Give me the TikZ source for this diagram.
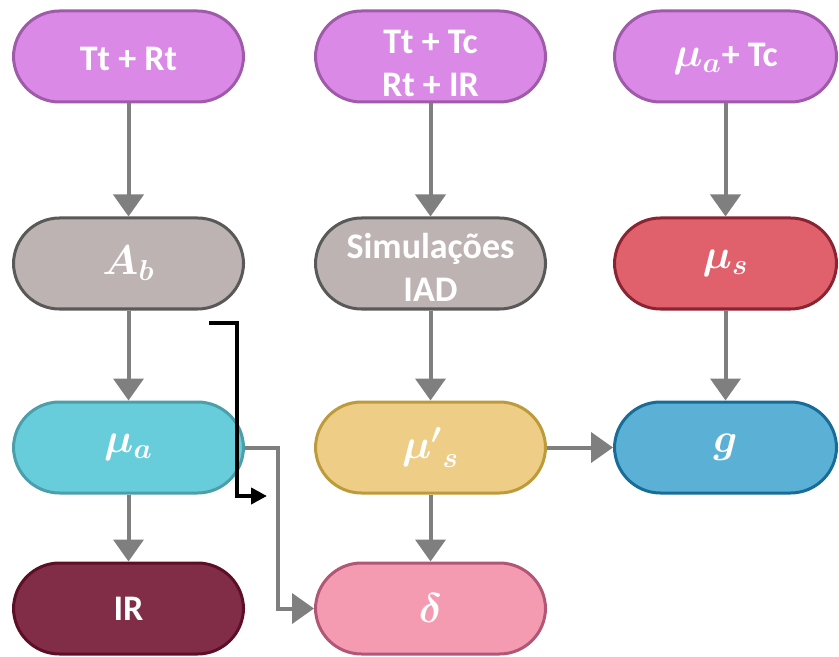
\documentclass[tikz,border=0pt]{standalone}
\usepackage{fontspec}
\setmainfont{Carlito}
\usepackage{amsmath}
\usetikzlibrary{arrows.meta}
\definecolor{topfill}{HTML}{DA8AE6}
\definecolor{topdraw}{HTML}{A05AAA}
\definecolor{grayfill}{HTML}{BDB3B3}
\definecolor{graydraw}{HTML}{595959}
\definecolor{cyanfill}{HTML}{67CDDA}
\definecolor{cyandraw}{HTML}{4A9FAA}
\definecolor{irfill}{HTML}{822D47}
\definecolor{irdraw}{HTML}{5C0F26}
\definecolor{musfill}{HTML}{E0616B}
\definecolor{musdraw}{HTML}{8A2432}
\definecolor{gfill}{HTML}{5BB0D6}
\definecolor{gdraw}{HTML}{176C98}
\definecolor{mupfill}{HTML}{EECD86}
\definecolor{mupdraw}{HTML}{BD9A3A}
\definecolor{delfill}{HTML}{F59BB1}
\definecolor{deldraw}{HTML}{B25676}
\definecolor{arrowgray}{HTML}{7F7F7F}
\newcommand{\twolines}[3]{\raisebox{#1}[\height][\depth]{\begin{tabular}{@{}c@{}}#2\\#3\end{tabular}}}
\newcommand{\largemath}[1]{{\fontsize{22}{26}\selectfont$#1$}}
\begin{document}
\begin{tikzpicture}[x=0.5pt,y=-0.5pt,
  box/.style={draw, line width=1.5pt, rounded corners=23pt, minimum width=115pt,
    minimum height=45.5pt, inner sep=0pt, text=white,
    font=\fontsize{18}{21.5}\selectfont\bfseries\boldmath, align=center},
  rbox/.style={box, minimum width=111pt},
  conn/.style={draw=arrowgray, line width=2pt, -{Triangle[width=15pt,length=11pt]}},
  blk/.style={draw=black, line width=2pt, -{Triangle[width=8pt,length=8pt]}}]
\useasboundingbox (0,0) rectangle (839,657);
% row 1
\node[box, fill=topfill, draw=topdraw] (t1) at (128.5,56.5) {\raisebox{-1pt}[\height][\depth]{Tt + Rt}};
\node[box, fill=topfill, draw=topdraw] (t2) at (430.5,56.5) {\twolines{-5pt}{Tt + Tc}{Rt + IR}};
\node[rbox, fill=topfill, draw=topdraw] (t3) at (725.5,56.5) {\raisebox{-1pt}[\height][\depth]{\largemath{\mu_a}+ Tc}};
% row 2
\node[box, fill=grayfill, draw=graydraw] (ab) at (128.5,263.5) {\largemath{A_b}};
\node[box, fill=grayfill, draw=graydraw] (sim) at (430.5,263.5) {\twolines{-4pt}{Simulações}{IAD}};
\node[rbox, fill=musfill, draw=musdraw] (mus) at (725.5,263.5) {\largemath{\mu_s}};
% row 3
\node[box, fill=cyanfill, draw=cyandraw] (mua) at (128.5,447.5) {\largemath{\mu_a}};
\node[box, fill=mupfill, draw=mupdraw] (mup) at (430.5,447.5) {\largemath{{\mu'}_s}};
\node[rbox, fill=gfill, draw=gdraw] (g) at (725.5,447.5) {\largemath{g}};
% row 4
\node[box, fill=irfill, draw=irdraw] (ir) at (128.5,608.5) {IR};
\node[box, fill=delfill, draw=deldraw] (del) at (430.5,608.5) {\largemath{\delta}};
% connectors
\draw[conn] (t1) -- (ab);
\draw[conn] (ab) -- (mua);
\draw[conn] (mua) -- (ir);
\draw[conn] (t2) -- (sim);
\draw[conn] (sim) -- (mup);
\draw[conn] (mup) -- (del);
\draw[conn] (t3) -- (mus);
\draw[conn] (mus) -- (g);
\draw[conn] (mup) -- (g);
\draw[conn] (mua.east) -- ++(33,0) |- (del.west);
% black bracket arrow
\coordinate (b1) at (209,323);
\coordinate (b2) at (237,323);
\coordinate (b3) at (267,496);
\draw[blk] (b1) -- (b2) |- (b3);
\end{tikzpicture}
\end{document}
